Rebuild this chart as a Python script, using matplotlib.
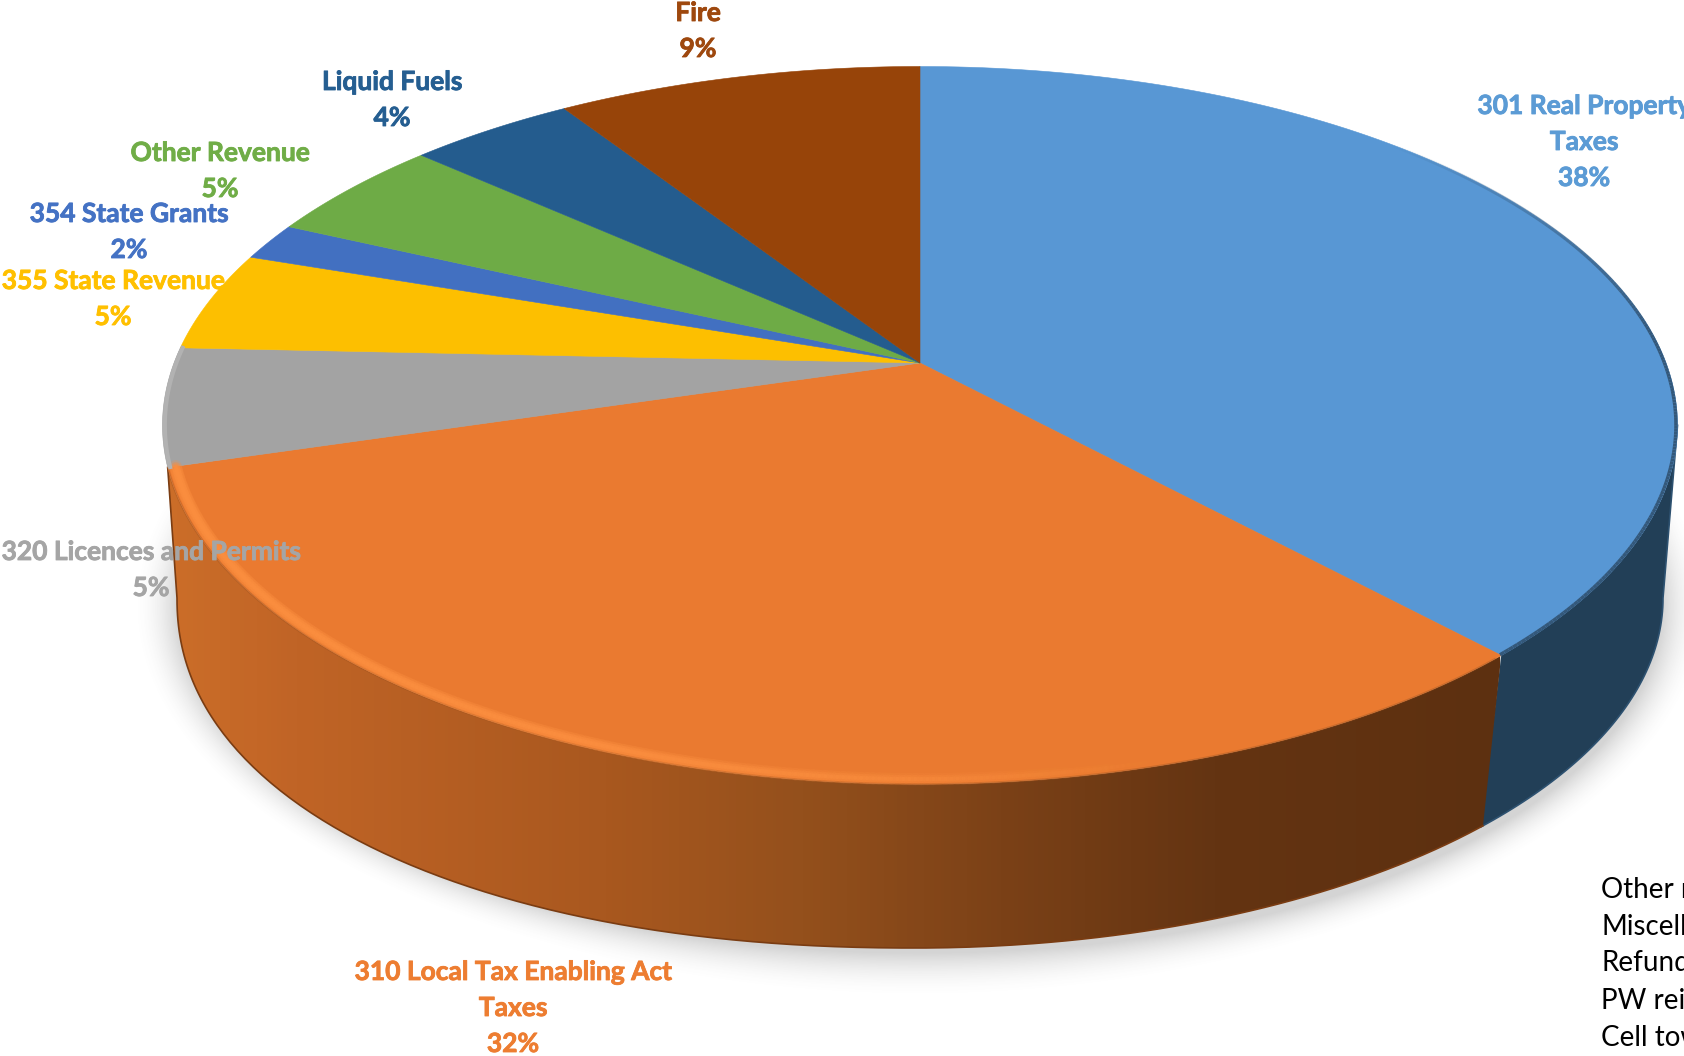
import numpy as np
import matplotlib
matplotlib.use("Agg")
import matplotlib.pyplot as plt
import matplotlib.patheffects as pe
from matplotlib.collections import LineCollection
from matplotlib.colors import LinearSegmentedColormap, to_rgb
from matplotlib.patches import Polygon

# slices, clockwise from 12 o'clock
names = ["301 Real Property\nTaxes", "310 Local Tax Enabling Act\nTaxes", "320 Licences and Permits",
         "355 State Revenue", "354 State Grants", "Other Revenue", "Liquid Fuels", "Fire"]
shares = [38.1, 32.3, 5.3, 4.5, 1.7, 4.7, 4.2, 9.2]
percent_labels = ["38%", "32%", "5%", "5%", "2%", "5%", "4%", "9%"]
top_colors = ["#5897d4", "#ea7a30", "#a3a3a3", "#fdbf00", "#4270c1", "#6eab46", "#245c8e", "#974409"]
label_colors = ["#5b9bd5", "#ed7d31", "#a5a5a5", "#ffc000", "#4472c4", "#70ad47", "#255e91", "#9e480e"]
label_xy = [(1584, 142), (513, 1008), (151, 570), (113, 299), (129, 232), (220, 171), (392, 100), (698, 31)]
note_lines = ["Other revenue", "Miscellaneous", "Refunds", "PW reimbursement", "Cell tower"]
note_y = [898, 935, 971, 1009, 1046]

W, H = 1684, 1056
CX, CY = 920, 363      # apex of the pie
A, B, K = 348, 746, 0.1737   # perspective squash
BOT_X, BOT_Y, BOT_RY = 915, 598, 350   # outline of the bottom face
BOT_RX_L, BOT_RX_R = 738, 748
SEAM_X = 1483


def top_xy(theta, r=1.0):
    v = r * np.cos(theta)
    w = 1 + K * v
    return CX + B * r * np.sin(theta) / w, CY - A * v / w


def outer_right(start=0.0):
    # right half of the bottom outline, from phi=start round to the lowest point
    phi = np.linspace(start, np.pi / 2, 120)
    return BOT_X + BOT_RX_R * np.cos(phi), BOT_Y + BOT_RY * np.sin(phi)


def outer_left():
    # left extreme round to the lowest point, a little fuller than an ellipse
    phi = np.linspace(0, np.pi / 2, 120)
    n = 2.15
    return BOT_X - BOT_RX_L * np.cos(phi) ** (2 / n), BOT_Y + BOT_RY * np.sin(phi) ** (2 / n)


def segments(x, y):
    pts = np.column_stack([x, y])
    return np.stack([pts[:-1], pts[1:]], axis=1)


edges = np.radians(np.concatenate([[0], np.cumsum(shares)]) / sum(shares) * 360)
seam_phi = np.arccos((SEAM_X - BOT_X) / BOT_RX_R)

fig = plt.figure(figsize=(W / 100, H / 100), dpi=100, facecolor="white")
ax = fig.add_axes([0, 0, 1, 1])

# soft shadow under the disc
xx, yy = np.meshgrid(np.arange(W) + 0.5, np.arange(H) + 0.5)
dx, dy = (xx - 920) / 754, (yy - 606) / 359
rr = np.sqrt(dx**2 + dy**2) + 1e-6
dist = (rr - 1) * np.hypot(xx - 920, yy - 606) / rr
fade = np.clip(1 - (dist + 12) / 46, 0, 1) ** 2 * 0.26
shadow = np.zeros((H, W, 4))
shadow[..., :3] = 0.35
shadow[..., 3] = fade
ax.imshow(shadow, extent=(0, W, H, 0), aspect="auto", zorder=1, interpolation="bilinear")

# side wall, blue part
t = np.linspace(np.radians(100), edges[1], 120)
tx, ty = top_xy(t)
ox, oy = outer_right()
keep = ox >= SEAM_X - 6
ox, oy = ox[keep], oy[keep]
ax.fill(np.r_[tx, ox[::-1]], np.r_[ty, oy[::-1]], color="#223f57", lw=0, zorder=2)
ax.plot(np.r_[tx[0], ox], np.r_[ty[0], oy], color="#2d5170", lw=1.2, zorder=2)

# side wall, orange part with left to right shading
wall_cmap = LinearSegmentedColormap.from_list("wall", [
    (0.0, "#cc6e29"), (0.10, "#c06426"), (0.33, "#a9581f"), (0.48, "#94501c"),
    (0.63, "#7b4117"), (0.79, "#643412"), (1.0, "#5d3010")])
t = np.linspace(edges[1], edges[2], 200)
tx, ty = top_xy(t)
lx, ly = outer_left()
rx, ry = outer_right(seam_phi)
rx, ry = rx[::-1], ry[::-1]
im = ax.imshow(np.linspace(0, 1, 400)[None, :], cmap=wall_cmap, extent=(160, 1500, H, 0),
               aspect="auto", zorder=2.5)
poly = Polygon(np.column_stack([np.r_[tx, lx, rx], np.r_[ty, ly, ry]]), transform=ax.transData,
               facecolor="none", edgecolor="none")
ax.add_patch(poly)
im.set_clip_path(poly)
ax.plot(np.r_[tx[-1], lx, rx], np.r_[ty[-1], ly, ry], color="#7a3c12", lw=1.2, zorder=3)

# top face
for i in range(len(shares)):
    t = np.linspace(edges[i], edges[i + 1], 120)
    x, y = top_xy(t)
    ax.fill(np.r_[CX, x], np.r_[CY, y], color=top_colors[i], lw=0.4, zorder=4)

# rim bevels
t = np.linspace(np.radians(45), edges[1], 200)
x, y = top_xy(t, 0.998)
fade_in = np.clip((np.degrees(t[:-1]) - 45) / 40, 0, 1)
rgb = np.tile(to_rgb("#34587a"), (len(fade_in), 1))
ax.add_collection(LineCollection(segments(x, y), colors=np.column_stack([rgb, fade_in]), linewidths=2.5, zorder=5))

t = np.linspace(edges[1] + 0.01, edges[2], 300)
x, y = top_xy(t, 0.99)
glow = np.clip((1200 - x[:-1]) / 600, 0, 1)
rgb = np.tile(to_rgb("#fb8e3f"), (len(glow), 1))
for lw, strength in [(9, 0.22), (6, 0.35), (3, 0.55)]:
    ax.add_collection(LineCollection(segments(x, y), colors=np.column_stack([rgb, glow * strength]),
                                     linewidths=lw, capstyle="round", zorder=5))
x, y = top_xy(t, 1.0)
ax.add_collection(LineCollection(segments(x, y), colors="#8a4a1c", linewidths=1.5, alpha=0.3, zorder=4.5))

t = np.linspace(edges[2], edges[3], 60)
x, y = top_xy(t, 0.997)
ax.plot(x, y, color="#b2b2b2", lw=3, zorder=5)

# labels
for name, pct, col, (lx, ly) in zip(names, percent_labels, label_colors, label_xy):
    ax.text(lx, ly, name + "\n" + pct, color=col, ha="center", va="center", fontsize=19,
            family="Lato", fontweight="bold", linespacing=1.6, zorder=6,
            path_effects=[pe.withStroke(linewidth=0.6, foreground=col)])

for line, ly in zip(note_lines, note_y):
    ax.text(1601, ly, line, color="black", ha="left", va="baseline", fontsize=20, family="Lato", zorder=6)

ax.set_xlim(0, W)
ax.set_ylim(H, 0)
ax.axis("off")

fig.savefig("out.png", dpi=100, facecolor="white")
